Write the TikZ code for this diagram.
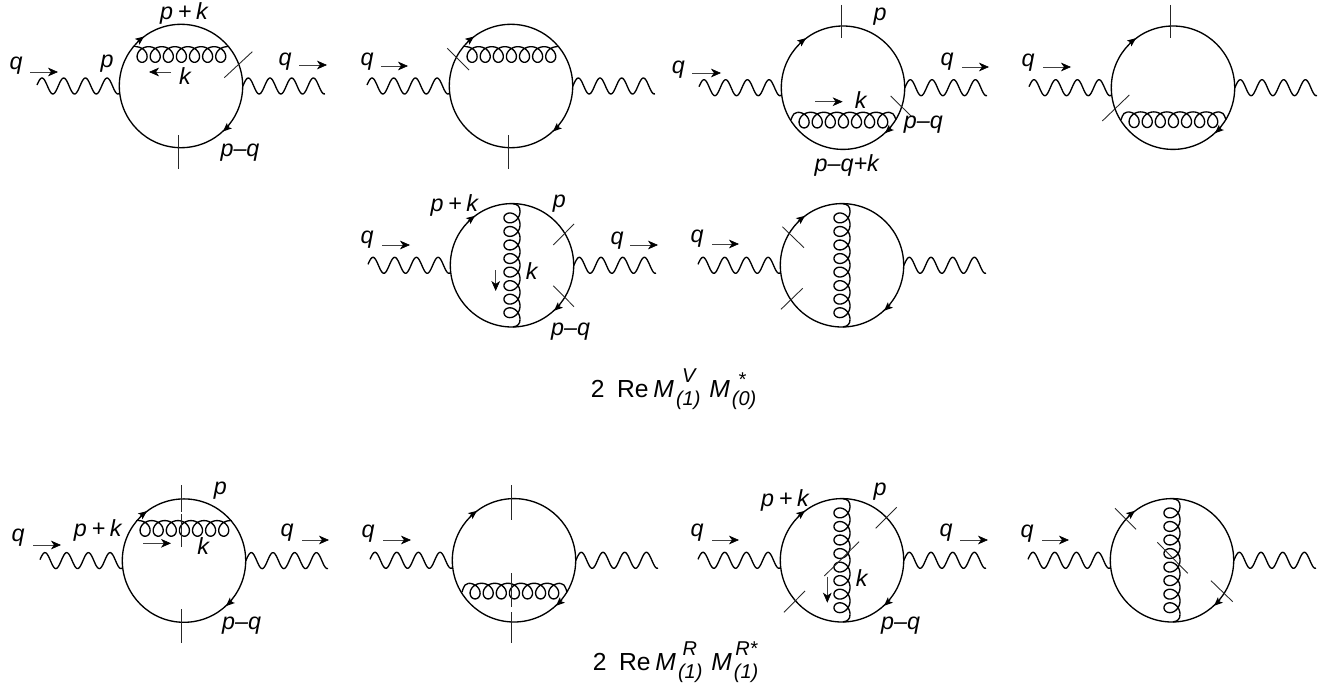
\documentclass[tikz,border=0pt]{standalone}
\usepackage{fontspec}
\setmainfont{Liberation Sans}
\usetikzlibrary{arrows.meta}
\tikzset{
  line/.style={line width=1pt,black},
  cutline/.style={line width=.65pt,black!85},
  lbl/.style={inner sep=0pt,font=\fontsize{17.5}{20}\selectfont\itshape},
  form/.style={inner sep=0pt,anchor=base west,font=\fontsize{18.5}{22}\selectfont},
  mom/.style={line width=.5pt,black!75,-{Stealth[length=7.5pt,width=6.5pt,inset=2.2pt,black]}},
  ferm/.style={line width=.8pt,-{Stealth[length=6.5pt,width=5.5pt,inset=1.5pt,black]}},
}
\newcommand\panel[2]{%
  \begin{scope}[shift={(#1,#2)}]
    \draw[line] (0,0) circle[radius=61.7];
    \draw[line] plot[domain=-144:-61.7,samples=90] (\x,{-8*cos(16.59*(\x+139))});
    \draw[line] plot[domain=61.7:144,samples=90] (\x,{-8*cos(16.59*(\x-67.3))});
    \draw[ferm] (-43.5,-44.5) -- (-37,-49.5);
    \draw[ferm] (48,40) -- (42,45.5);
  \end{scope}}
\newcommand\gluTop[3]{%
  \begin{scope}[shift={(#1,#2)}]
    \draw[line] (-48,#3) -- (-45.45,#3);
    \draw[line] plot[domain=0:2520,samples=281] ({-45.45+.036389*\x+8*sin(\x)},{#3+7.8*(1-cos(\x))});
    \draw[line] (46.25,#3) -- (48,#3);
  \end{scope}}
\newcommand\gluBot[3]{%
  \begin{scope}[shift={(#1,#2)}]
    \draw[line] (-52,32) .. controls (-50,{#3+1.5}) and (-48,#3) .. (-45.45,#3);
    \draw[line] plot[domain=0:2520,samples=281] ({-45.45+.036389*\x+8*sin(\x)},{#3+7.8*(1-cos(\x))});
    \draw[line] (46.25,#3) .. controls (49,#3) and (51,{#3+1.5}) .. (53,32);
  \end{scope}}
\newcommand\gluV[2]{%
  \begin{scope}[shift={(#1,#2)}]
    \draw[line] (1,-61.6) .. controls (6,-61) and (8,-58.5) .. (8,-54.15);
    \draw[line] plot[domain=0:2880,samples=321] ({8-8*(1-cos(\x))},{-54.15+.037611*\x+8*sin(\x)});
    \draw[line] (8,54.15) .. controls (8,58.5) and (6,61) .. (1,61.6);
  \end{scope}}
\newcommand\lab[4]{\node[lbl] (#1) at (#2,#3) {#4};}
\newcommand\pk{p\hspace{.2em}+\hspace{.2em}k}
% sub, sup, horizontal offset of sup, raise of sup
\newcommand\subsup[4]{\makebox[26.5pt][l]{\fontsize{15}{17}\selectfont\itshape\rlap{\hspace{1.5pt}\raisebox{-6.2pt}{#1}}\hspace{#3}\raisebox{#4}{#2}}}
\begin{document}
\begin{tikzpicture}[x=.75pt,y=-.75pt]
\useasboundingbox (0,0) rectangle (1328,685);
\fill[white] (0,0) rectangle (1328,685);
% circles and photons
\panel{181}{86}\panel{511}{86}\panel{843}{87.7}\panel{1173}{87.7}
\panel{512}{265.3}\panel{842}{265.3}
\panel{184}{560.6}\panel{514}{560.3}\panel{842}{560.3}\panel{1172}{560.3}
% gluons
\gluTop{181}{86}{-39.3}\gluTop{511}{86}{-39.3}
\gluBot{843}{87.7}{24.6}\gluBot{1173}{87.7}{24.2}
\gluV{512}{265.3}\gluV{842}{265.3}
\gluTop{184}{560.6}{-40}\gluBot{514}{560.3}{23}
\gluV{842}{560.3}\gluV{1172}{560.3}
% cuts
\draw[cutline] (224.3,77.7) -- (252.3,51.7);
\draw[cutline] (178.3,135) -- (178.3,169);
\draw[cutline] (447.3,48.3) -- (469,70);
\draw[cutline] (508.3,135) -- (508.3,169);
\draw[cutline] (841.7,5) -- (841.7,38.3);
\draw[cutline] (890.7,96) -- (911.7,116.7);
\draw[cutline] (1170.3,5) -- (1170.3,38.3);
\draw[cutline] (1129.3,95) -- (1102.3,121);
\draw[cutline] (574,224) -- (553.3,245);
\draw[cutline] (553.3,285.7) -- (574,306.7);
\draw[cutline] (782.3,226.7) -- (804,247.7);
\draw[cutline] (802.7,288.3) -- (781,309.3);
\draw[cutline] (181,485) -- (181,512);
\draw[cutline] (181,514) -- (181,547);
\draw[cutline] (181,609) -- (181,643);
\draw[cutline] (511,485) -- (511,520);
\draw[cutline] (511,573) -- (511,607);
\draw[cutline] (511,612) -- (511,643);
\draw[cutline] (896.7,507.3) -- (875.7,528.3);
\draw[cutline] (859,541.7) -- (824.3,576);
\draw[cutline] (805,591) -- (784,612.3);
\draw[cutline] (1115,508.3) -- (1136,529.3);
\draw[cutline] (1157.3,542.3) -- (1187.7,573.3);
\draw[cutline] (1211,580.7) -- (1232.7,601.7);
% momentum arrows
\draw[mom] (30,72) -- (58,72);
\draw[mom] (299,65) -- (327,65);
\draw[mom] (171,72) -- (149,72);
\draw[mom] (381,66) -- (408,66);
\draw[mom] (692,73) -- (721,73);
\draw[mom] (962,67) -- (989,67);
\draw[mom] (815,101.7) -- (842.7,101.7);
\draw[mom] (1043,67) -- (1071,67);
\draw[mom] (382,245) -- (410,245);
\draw[mom] (630,245) -- (658,245);
\draw[mom] (495.7,270) -- (495.7,291);
\draw[mom] (712,244) -- (739,244);
\draw[mom] (33,545) -- (61,545);
\draw[mom] (302,540) -- (329,540);
\draw[mom] (143.3,543.3) -- (171,543.3);
\draw[mom] (383,540) -- (411,540);
\draw[mom] (712,540) -- (739,540);
\draw[mom] (960,540) -- (988,540);
\draw[mom] (827.3,576.7) -- (827.3,602.7);
\draw[mom] (1042,540) -- (1069,540);
% labels
\lab{a1}{184}{13}{\pk}
\lab{a2}{107}{64}{p}
\lab{a3}{185}{76}{k}
\lab{a4}{16}{66}{q}
\lab{a5}{285}{62}{q}
\lab{a6}{240}{153}{p–q}
\lab{b1}{367}{62}{q}
\lab{c1}{880}{17}{p}
\lab{c2}{678.3}{70}{q}
\lab{c3}{947}{62}{q}
\lab{c4}{860.7}{100}{k}
\lab{c5}{923.3}{125}{p–q}
\lab{c6}{846.7}{165}{p–q+k}
\lab{d1}{1028}{63}{q}
\lab{e1}{454.3}{205}{\pk}
\lab{e2}{559.3}{203.3}{p}
\lab{e3}{531.7}{270.7}{k}
\lab{e4}{570.7}{331.7}{p–q}
\lab{e5}{367}{240}{q}
\lab{e6}{617}{241}{q}
\lab{f1}{697}{239}{q}
\lab{g1}{97.7}{530.7}{\pk}
\lab{g2}{220.4}{490.7}{p}
\lab{g3}{203.3}{546}{k}
\lab{g4}{241.7}{626}{p–q}
\lab{g5}{18}{538}{q}
\lab{g6}{287}{533}{q}
\lab{h1}{368}{534}{q}
\lab{i1}{785}{500.5}{\pk}
\lab{i2}{880}{491.7}{p}
\lab{i3}{861.7}{578.3}{k}
\lab{i4}{900.7}{626}{p–q}
\lab{i5}{697}{533}{q}
\lab{i6}{946}{533}{q}
\lab{j1}{1027}{534}{q}
% formulas
\node[form] (f1v) at (590.7,397) {2\hspace{.5em}Re\hspace{.2em}\textit{M}\subsup{(1)}{V}{6pt}{11pt}\textit{M}\subsup{(0)}{*}{6pt}{8pt}};
\node[form] (f1r) at (592.7,670) {2\hspace{.5em}Re\hspace{.2em}\textit{M}\subsup{(1)}{R}{5pt}{11pt}\textit{M}\subsup{(1)}{R*}{2.5pt}{11pt}};
\end{tikzpicture}
\end{document}
